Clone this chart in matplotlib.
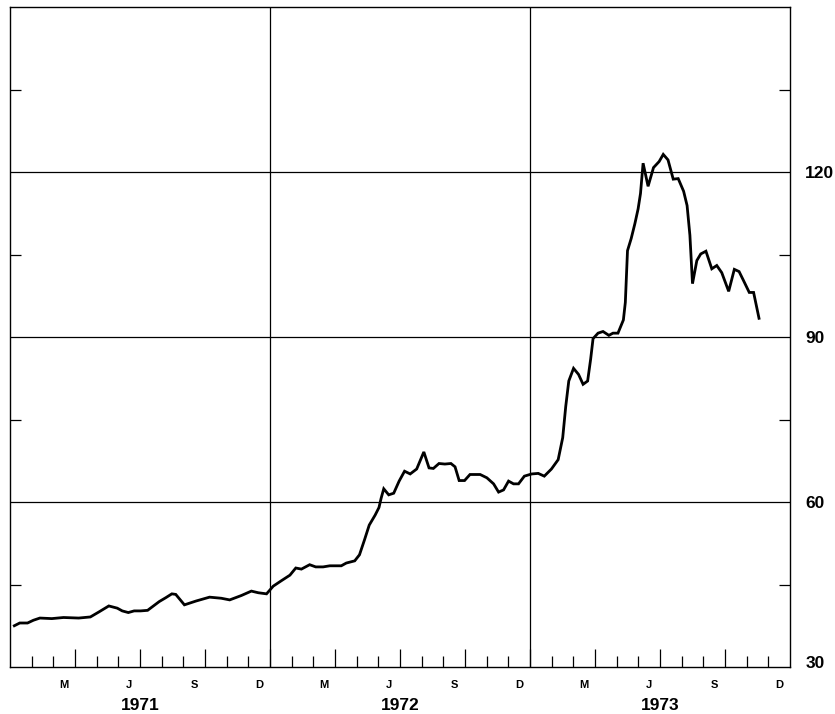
import numpy as np
import matplotlib
matplotlib.use("Agg")
import matplotlib.pyplot as plt
import matplotlib.transforms as mtransforms

# months since Jan 1 1971, index value
months = [0.20, 0.45, 0.81, 1.08, 1.38, 1.93, 2.47, 3.17, 3.71, 4.10,
          4.56, 4.95, 5.18, 5.46, 5.73, 6.03, 6.35, 6.89, 7.19, 7.47,
          7.65, 8.05, 8.59, 9.21, 9.75, 10.14, 10.68, 11.14, 11.46, 11.84,
          12.15, 12.53, 12.92, 13.19, 13.45, 13.83, 14.11, 14.45, 14.76, 15.29,
          15.52, 15.91, 16.13, 16.36, 16.58, 16.85, 17.03, 17.13, 17.25, 17.48,
          17.71, 17.96, 18.21, 18.47, 18.77, 19.10, 19.34, 19.54, 19.80, 20.07,
          20.35, 20.54, 20.73, 20.98, 21.23, 21.70, 22.01, 22.32, 22.55, 22.78,
          23.01, 23.24, 23.47, 23.74, 24.08, 24.38, 24.66, 24.99, 25.30, 25.51,
          25.65, 25.79, 26.01, 26.24, 26.45, 26.66, 26.80, 26.91, 27.14, 27.37,
          27.64, 27.83, 28.06, 28.31, 28.40, 28.50, 28.67, 28.84, 28.99, 29.10,
          29.22, 29.45, 29.70, 29.96, 30.15, 30.37, 30.61, 30.84, 31.09, 31.25,
          31.38, 31.50, 31.70, 31.88, 32.12, 32.39, 32.62, 32.85, 33.17, 33.43,
          33.65, 33.85, 34.12, 34.32, 34.57]
values = [37.5, 38.0, 38.0, 38.5, 38.9, 38.8, 39.0, 38.9, 39.1, 40.0,
          41.1, 40.7, 40.2, 39.9, 40.2, 40.2, 40.3, 41.9, 42.6, 43.3,
          43.2, 41.3, 42.0, 42.7, 42.5, 42.2, 43.0, 43.8, 43.5, 43.3,
          44.7, 45.7, 46.7, 48.0, 47.8, 48.6, 48.2, 48.2, 48.4, 48.4,
          48.9, 49.3, 50.4, 53.1, 55.8, 57.6, 59.0, 60.7, 62.4, 61.3,
          61.6, 63.8, 65.6, 65.1, 66.0, 69.1, 66.2, 66.1, 67.0, 66.9,
          67.0, 66.4, 63.9, 63.9, 65.0, 65.0, 64.4, 63.3, 61.8, 62.2,
          63.8, 63.3, 63.3, 64.7, 65.1, 65.2, 64.7, 66.0, 67.7, 71.7,
          77.4, 82.0, 84.3, 83.2, 81.4, 82.0, 86.0, 89.7, 90.7, 91.0,
          90.3, 90.7, 90.7, 93.1, 96.3, 105.7, 107.9, 110.6, 113.3, 116.1,
          121.6, 117.4, 120.8, 121.9, 123.2, 122.2, 118.7, 118.8, 116.5, 113.9,
          108.5, 99.7, 103.9, 105.1, 105.6, 102.4, 103.0, 101.7, 98.3, 102.3,
          101.9, 100.3, 98.1, 98.1, 93.4]

years = ["1971", "1972", "1973"]
month_letters = ["M", "J", "S", "D"]
ytick_values = [30, 60, 90, 120]
ytick_minor = [45, 75, 105, 135]

fig = plt.figure(figsize=(8.35, 7.14), dpi=100)
W, H = 835, 714
ax = fig.add_axes([10 / W, (H - 667) / H, (790 - 10) / W, (667 - 7) / H])

ax.plot(months, values, color="black", lw=2.0, solid_joinstyle="miter")

ax.set_xlim(0, 36)
ax.set_ylim(30, 150)

for sp in ax.spines.values():
    sp.set_linewidth(1.0)

# grid: year boundaries and 60/90/120
for b in [12, 24]:
    ax.axvline(b, color="black", lw=0.9)
for v in ytick_values[1:]:
    ax.axhline(v, color="black", lw=0.9)

# x ticks: every month, taller every quarter
ax.set_xticks(np.arange(3, 36, 3))
ax.set_xticks(np.arange(1, 36, 1), minor=True)
ax.tick_params(axis="x", which="major", direction="in", length=13, width=0.9,
               labelbottom=False)
ax.tick_params(axis="x", which="minor", direction="in", length=8, width=0.9)

# y ticks: labels right, short inward ticks both sides
ax.yaxis.tick_right()
ax.set_yticks(ytick_values)
ax.set_yticks(ytick_minor, minor=True)
ax.set_yticklabels([str(v) for v in ytick_values])
ax.tick_params(axis="y", which="major", length=0, pad=11, labelsize=12.5,
               right=True, left=False)
ax.tick_params(axis="y", which="minor", direction="in", length=8, width=0.9,
               left=True, right=True)
for lab in ax.get_yticklabels():
    lab.set_fontweight("bold")
    lab.set_fontfamily("Liberation Sans")
    lab.set_horizontalalignment("left")
lab30 = ax.get_yticklabels()[0]
lab30.set_transform(lab30.get_transform() +
                    mtransforms.ScaledTranslation(0, 5 / 100, fig.dpi_scale_trans))

trans = ax.get_xaxis_transform()
for i, yr in enumerate(years):
    for j, ml in enumerate(month_letters):
        ax.text(12 * i + 3 * j + 2.5, -18 / 660, ml, transform=trans,
                ha="center", va="center", fontsize=8, fontweight="bold",
                family="Liberation Sans")
    ax.text(12 * i + 6, -39 / 660, yr, transform=trans, ha="center", va="center",
            fontsize=12.5, fontweight="bold", family="Liberation Sans")

fig.savefig("out.png", dpi=100)
